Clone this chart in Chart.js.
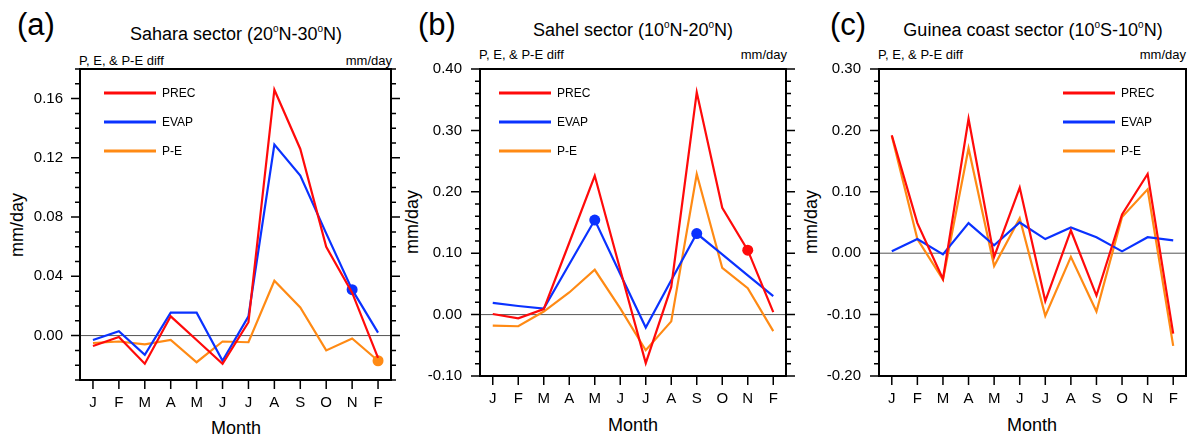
<!DOCTYPE html>
<html>
<head>
<meta charset="utf-8">
<script src="https://cdn.jsdelivr.net/npm/chart.js@4"></script>
<style>
  body { margin: 0; background: #fff; width: 1187px; height: 434px; overflow: hidden; position: relative;
         font-family: "Liberation Sans", Arial, Helvetica, sans-serif; color: #000; }
  canvas { position: absolute; }
  .txt { position: absolute; white-space: nowrap; line-height: 1; }
  .tag { font-size: 31px; }
  .title { font-size: 18px; transform: translate(-50%, -50%); }
  .title sup { font-size: 10px; vertical-align: 8px; line-height: 0; }
  .sub { font-size: 13px; transform: translateY(-50%); }
  .unit { font-size: 13px; transform: translate(-100%, -50%); }
  .ytitle { font-size: 18px; transform: translate(-50%, -50%) rotate(-90deg); }
  .xtitle { font-size: 18px; transform: translate(-50%, -50%); }
  .leg-line { position: absolute; width: 52px; height: 3px; transform: translateY(-50%); }
  .leg-txt { font-size: 12px; transform: translateY(-50%); }
</style>
</head>
<body>

<div class="txt tag" style="left:17px; top:9px;">(a)</div>
<div class="txt tag" style="left:418px; top:9px;">(b)</div>
<div class="txt tag" style="left:830px; top:9px;">(c)</div>

<div class="txt title" style="left:236px; top:34px;">Sahara sector (20<sup>o</sup>N-30<sup>o</sup>N)</div>
<div class="txt title" style="left:633px; top:30px;">Sahel sector (10<sup>o</sup>N-20<sup>o</sup>N)</div>
<div class="txt title" style="left:1033px; top:30px;">Guinea coast sector (10<sup>o</sup>S-10<sup>o</sup>N)</div>

<div class="txt sub" style="left:79px; top:60px;">P, E, &amp; P-E diff</div>
<div class="txt unit" style="left:392px; top:60px;">mm/day</div>
<div class="txt sub" style="left:479px; top:54px;">P, E, &amp; P-E diff</div>
<div class="txt unit" style="left:787px; top:54px;">mm/day</div>
<div class="txt sub" style="left:878px; top:54px;">P, E, &amp; P-E diff</div>
<div class="txt unit" style="left:1186px; top:54px;">mm/day</div>

<div class="txt ytitle" style="left:17px; top:225px;">mm/day</div>
<div class="txt ytitle" style="left:412px; top:222px;">mm/day</div>
<div class="txt ytitle" style="left:811px; top:222px;">mm/day</div>

<div class="txt xtitle" style="left:236px; top:428px;">Month</div>
<div class="txt xtitle" style="left:633px; top:425px;">Month</div>
<div class="txt xtitle" style="left:1032px; top:425px;">Month</div>

<canvas id="sahara" width="400" height="379" style="left:0px; top:55px;"></canvas>
<canvas id="sahel" width="396" height="379" style="left:400px; top:55px;"></canvas>
<canvas id="guinea" width="391" height="379" style="left:796px; top:55px;"></canvas>

<div id="legends"></div>

<script>
Chart.defaults.font.family = '"Liberation Sans", Arial, Helvetica, sans-serif';
Chart.defaults.color = "#000";

const months = ["J", "F", "M", "A", "M", "J", "J", "A", "S", "O", "N", "F"];
const seriesNames = ["PREC", "EVAP", "P-E"];
const seriesColors = ["#ff0a0a", "#0a32ff", "#ff8a14"];

// (a) Sahara
const saharaPrec = [-0.007, -0.001, -0.019, 0.013, -0.003, -0.019, 0.009, 0.166, 0.126, 0.060, 0.029, -0.015];
const saharaEvap = [-0.003, 0.003, -0.013, 0.0155, 0.0155, -0.017, 0.013, 0.129, 0.108, 0.069, 0.031, 0.002];
const saharaPE = [-0.005, -0.004, -0.006, -0.003, -0.018, -0.004, -0.0045, 0.037, 0.019, -0.010, -0.002, -0.017];
const saharaDots = [[], [10], [11]];
const saharaTicks = [0, 0.04, 0.08, 0.12, 0.16];

// (b) Sahel
const sahelPrec = [0.001, -0.006, 0.009, 0.117, 0.226, 0.073, -0.079, 0.045, 0.362, 0.174, 0.105, 0.004];
const sahelEvap = [0.019, 0.014, 0.0097, 0.082, 0.154, 0.066, -0.021, 0.056, 0.132, 0.098, 0.064, 0.030];
const sahelPE = [-0.018, -0.019, 0.005, 0.036, 0.073, 0.010, -0.058, -0.011, 0.229, 0.076, 0.043, -0.027];
const sahelDots = [[10], [4, 8], []];
const sahelTicks = [-0.1, 0, 0.1, 0.2, 0.3, 0.4];

// (c) Guinea coast
const guineaPrec = [0.192, 0.049, -0.042, 0.219, -0.006, 0.107, -0.078, 0.037, -0.069, 0.063, 0.129, -0.131];
const guineaEvap = [0.003, 0.023, -0.002, 0.049, 0.013, 0.050, 0.023, 0.042, 0.026, 0.003, 0.026, 0.021];
const guineaPE = [0.191, 0.023, -0.043, 0.171, -0.021, 0.057, -0.102, -0.006, -0.095, 0.059, 0.104, -0.151];
const guineaDots = [[], [], []];
const guineaTicks = [-0.2, -0.1, 0, 0.1, 0.2, 0.3];

// frame, outward ticks (major + minor) and the zero line, NCL style
const nclFrame = {
  id: "nclFrame",
  beforeDatasetsDraw(chart) {
    const { ctx, chartArea: a, scales } = chart;
    const y0 = scales.y.getPixelForValue(0);
    ctx.save();
    ctx.strokeStyle = "#555";
    ctx.lineWidth = 1;
    ctx.beginPath();
    ctx.moveTo(a.left, y0);
    ctx.lineTo(a.right, y0);
    ctx.stroke();
    ctx.restore();
  },
  afterDatasetsDraw(chart, args, opts) {
    const { ctx, chartArea: a, scales } = chart;
    const ys = scales.y;
    ctx.save();
    ctx.strokeStyle = "#000";
    ctx.lineWidth = 2;
    ctx.strokeRect(a.left, a.top, a.right - a.left, a.bottom - a.top);

    ctx.lineWidth = 1.5;
    ctx.beginPath();
    // minor ticks on both sides
    const n = Math.round((ys.max - ys.min) / opts.minor);
    for (let k = 0; k <= n; k++) {
      const y = ys.getPixelForValue(ys.min + k * opts.minor);
      ctx.moveTo(a.left - 5, y);
      ctx.lineTo(a.left, y);
      ctx.moveTo(a.right, y);
      ctx.lineTo(a.right + 5, y);
    }
    // major ticks
    ys.ticks.forEach((t) => {
      const y = ys.getPixelForValue(t.value);
      ctx.moveTo(a.left - 9, y);
      ctx.lineTo(a.left, y);
      ctx.moveTo(a.right, y);
      ctx.lineTo(a.right + 9, y);
    });
    // month ticks
    scales.x.ticks.forEach((t, i) => {
      const x = scales.x.getPixelForTick(i);
      ctx.moveTo(x, a.bottom);
      ctx.lineTo(x, a.bottom + 9);
    });
    ctx.stroke();
    ctx.restore();
  },
};

function makePanel(id, series, dots, yTicks, yMin, yMax, minor, box) {
  const datasets = series.map((values, i) => ({
    label: seriesNames[i],
    data: values,
    borderColor: seriesColors[i],
    backgroundColor: seriesColors[i],
    borderWidth: 2.2,
    tension: 0,
    pointRadius: (c) => (dots[i].includes(c.dataIndex) ? 5.5 : 0),
    pointBorderWidth: 0,
  }));

  return new Chart(document.getElementById(id), {
    type: "line",
    data: { labels: months, datasets: datasets },
    plugins: [nclFrame],
    options: {
      responsive: false,
      animation: false,
      events: [],
      devicePixelRatio: 1,
      layout: { padding: { left: 0, top: 14, right: box.padRight, bottom: 0 } },
      plugins: {
        legend: { display: false },
        tooltip: { enabled: false },
        nclFrame: { minor: minor },
      },
      scales: {
        x: {
          type: "category",
          offset: true,
          grid: { display: false, drawTicks: false },
          border: { display: false },
          ticks: { padding: 14, maxRotation: 0, autoSkip: false, font: { size: 15 } },
          afterFit: (s) => {
            s.height = box.xHeight;
            s.paddingLeft = 0;
            s.paddingRight = 0;
          },
        },
        y: {
          min: yMin,
          max: yMax,
          grid: { display: false, drawTicks: false },
          border: { display: false },
          afterBuildTicks: (s) => { s.ticks = yTicks.map((v) => ({ value: v })); },
          ticks: {
            padding: box.labelPad,
            font: { size: 15 },
            callback: (v) => Number(v).toFixed(2),
          },
          afterFit: (s) => {
            s.width = box.yWidth;
            s.paddingTop = 0;
            s.paddingBottom = 0;
          },
        },
      },
    },
  });
}

makePanel("sahara", [saharaPrec, saharaEvap, saharaPE], saharaDots, saharaTicks, -0.03, 0.18, 0.01,
  { yWidth: 80, xHeight: 54, padRight: 9, labelPad: 17 });
makePanel("sahel", [sahelPrec, sahelEvap, sahelPE], sahelDots, sahelTicks, -0.1, 0.4, 0.02,
  { yWidth: 80, xHeight: 58, padRight: 10, labelPad: 18 });
makePanel("guinea", [guineaPrec, guineaEvap, guineaPE], guineaDots, guineaTicks, -0.2, 0.3, 0.02,
  { yWidth: 83, xHeight: 58, padRight: 1, labelPad: 18 });

// legends sit inside each frame
const legendLeft = [104, 499, 1063];
const legendRows = [93, 122, 151];
const legendHolder = document.getElementById("legends");
legendLeft.forEach((left) => {
  seriesNames.forEach((name, i) => {
    const line = document.createElement("div");
    line.className = "leg-line";
    line.style.left = left + "px";
    line.style.top = legendRows[i] + "px";
    line.style.background = seriesColors[i];
    legendHolder.appendChild(line);

    const label = document.createElement("div");
    label.className = "txt leg-txt";
    label.style.left = left + 58 + "px";
    label.style.top = legendRows[i] + "px";
    label.textContent = name;
    legendHolder.appendChild(label);
  });
});
</script>
</body>
</html>
